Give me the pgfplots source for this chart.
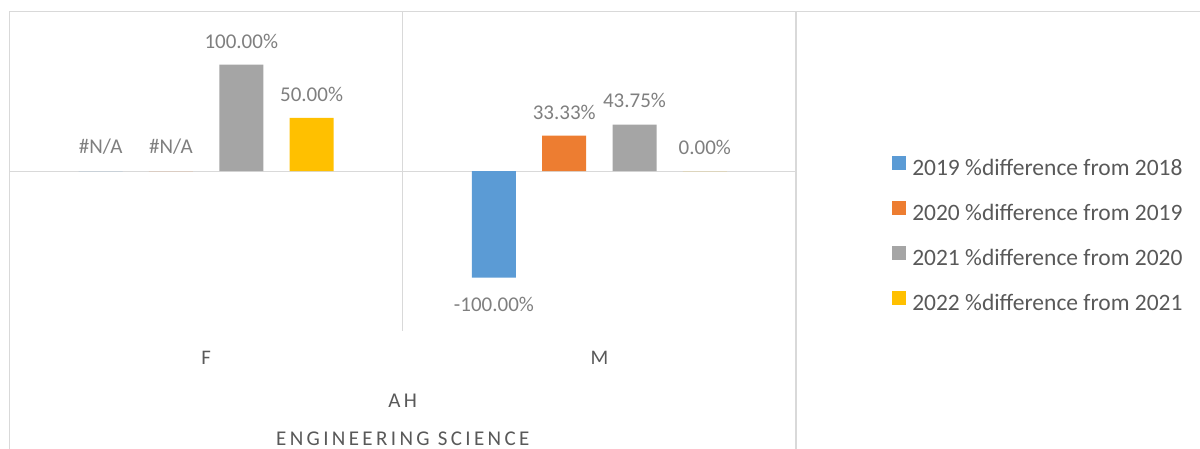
\documentclass[border=0pt]{standalone}
\usepackage{pgfplots}
\pgfplotsset{compat=1.18}
\usepackage{fontspec}
\setmainfont{Carlito}
\definecolor{cblue}{HTML}{5B9BD5}
\definecolor{corange}{HTML}{ED7D31}
\definecolor{cgray}{HTML}{A5A5A5}
\definecolor{cgold}{HTML}{FFC000}
\definecolor{gridc}{HTML}{D9D9D9}
\definecolor{lblc}{HTML}{7F7F7F}
\definecolor{txtc}{HTML}{595959}
\begin{document}
\begin{tikzpicture}
\useasboundingbox (0,0) rectangle (1200pt,449pt);
\begin{axis}[
  at={(9.5pt,118pt)}, anchor=south west,
  scale only axis, width=786.5pt, height=319.5pt,
  xmin=-0.5, xmax=1.5, ymin=-1.5, ymax=1.5,
  axis line style={draw=none},
  ybar=26.3pt, bar width=44pt,
  xtick={0,1}, xticklabels={F,M},
  xticklabel style={anchor=center, inner sep=0pt, yshift=-27pt, font=\fontsize{20.7}{24}\selectfont, text=txtc},
  extra x ticks={0.5}, extra x tick labels={},
  extra x tick style={grid=major, major grid style={gridc, line width=1.3pt}},
  ytick={0,1.5}, yticklabels={},
  ymajorgrids, grid style={gridc, line width=1.3pt},
  major tick length=0pt,
  nodes near coords, point meta=explicit symbolic,
  visualization depends on={rawy \as \ry},
  every node near coord/.append style={font=\fontsize{21}{24}\selectfont, text=lblc, inner sep=0pt,
    /utils/exec={\ifdim\ry pt<0pt \gdef\myanch{north}\gdef\mysep{19.5pt}\else\gdef\myanch{south}\gdef\mysep{16.5pt}\fi},
    anchor=\myanch, outer ysep=\mysep},
  legend style={at={(1.1183,0.298)}, anchor=west, draw=none, fill=none,
    font=\fontsize{23.5}{28}\selectfont, text=txtc, row sep=21.3pt, column sep=6.3pt,
    nodes={inner sep=0pt, text height=15pt, text depth=5pt}},
  legend cell align=left,
  legend image code/.code={\fill[#1] (0pt,0pt) rectangle (13.7pt,13.7pt);},
  clip=false,
]
\addplot[fill=cblue, draw=none] coordinates {(0,0) [\#N/A] (1,-1) [-100.00\%]};
\addplot[fill=corange, draw=none] coordinates {(0,0) [\#N/A] (1,0.3333) [33.33\%]};
\addplot[fill=cgray, draw=none] coordinates {(0,1) [100.00\%] (1,0.4375) [43.75\%]};
\addplot[fill=cgold, draw=none] coordinates {(0,0.5) [50.00\%] (1,0) [0.00\%]};
\legend{2019 \%difference from 2018, 2020 \%difference from 2019, 2021 \%difference from 2020, 2022 \%difference from 2021}
\node[anchor=center, inner sep=0pt, text=txtc, font=\fontsize{21}{24}\selectfont\addfontfeature{LetterSpace=16}] at (axis description cs:0.5,-0.219) {AH};
\node[anchor=center, inner sep=0pt, text=txtc, font=\fontsize{21}{24}\selectfont\addfontfeature{LetterSpace=16}] at (axis description cs:0.5,-0.338) {ENGINEERING SCIENCE};
\end{axis}
\draw[gridc, line width=1.3pt] (9.5pt,437.5pt) -- (1200pt,437.5pt);
\draw[gridc, line width=1.3pt] (9.5pt,437.5pt) -- (9.5pt,0pt);
\draw[gridc, line width=1.3pt] (796pt,437.5pt) -- (796pt,0pt);
\end{tikzpicture}
\end{document}
